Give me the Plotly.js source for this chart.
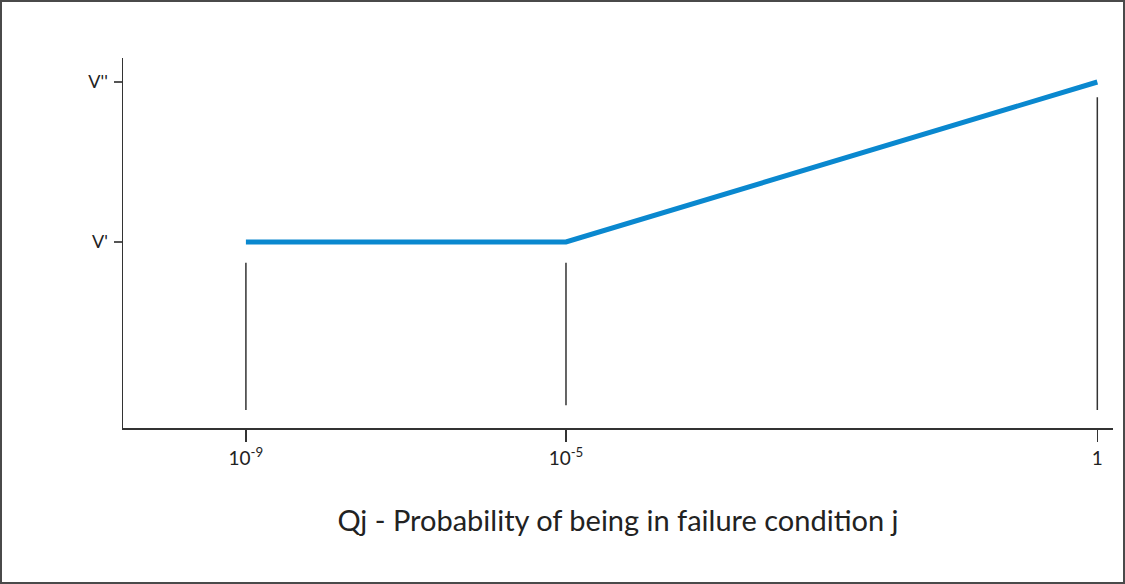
<!DOCTYPE html>
<html>
<head>
<meta charset="utf-8">
<script src="https://cdn.plot.ly/plotly-3.0.1.min.js"></script>
<style>
  html, body { margin: 0; padding: 0; background: #fff; }
  #wrap { position: relative; width: 1125px; height: 584px; }
  #chart { width: 1125px; height: 584px; }
  #frame { position: absolute; left: 0; top: 0; width: 1125px; height: 584px; box-sizing: border-box; border: 2px solid #4a4a4a; pointer-events: none; }
</style>
</head>
<body>
<div id="wrap"><div id="chart"></div><div id="frame"></div></div>
<script>
// Schematic positions of the probability ticks along the x axis
const xLabels = ['10<sup>-9</sup>', '10<sup>-5</sup>', '1'];
const xPos = [0, 1, 2.66];
// Value curve (V' -> V'')
const yLevels = [1, 2];
const yLabels = ["V'", "V''"];
const curveY = [1, 1, 2];
// Vertical reference lines at each tick: top and bottom
const dropTop = [0.87, 0.87, 1.905];
const dropBottom = [-0.05, -0.02, -0.05];

const traces = [];
for (let i = 0; i < xPos.length; i++) {
  traces.push({
    x: [xPos[i], xPos[i]],
    y: [dropBottom[i], dropTop[i]],
    mode: 'lines',
    line: { color: '#333333', width: 1.5 },
    hoverinfo: 'skip',
    showlegend: false
  });
}
traces.push({
  x: xPos,
  y: curveY,
  mode: 'lines',
  line: { color: '#0a88cf', width: 5 },
  showlegend: false
});

const layout = {
  width: 1125,
  height: 584,
  margin: { l: 123, r: 12, t: 58, b: 156 },
  paper_bgcolor: '#ffffff',
  plot_bgcolor: '#ffffff',
  font: { family: 'Lato, "Open Sans", sans-serif', color: '#222' },
  xaxis: {
    range: [-0.384, 2.709],
    tickmode: 'array',
    tickvals: xPos,
    ticktext: xLabels,
    ticks: 'outside',
    ticklen: 12,
    tickwidth: 1.5,
    tickcolor: '#333',
    ticklabelstandoff: 1,
    showline: true,
    linecolor: '#333',
    linewidth: 1.5,
    showgrid: false,
    zeroline: false,
    tickfont: { size: 19, color: '#222' },
    title: { text: 'Qj - Probability of being in failure condition j', font: { size: 29, color: '#222' }, standoff: 42 },
    automargin: false,
    fixedrange: true
  },
  yaxis: {
    range: [-0.1625, 2.15],
    tickmode: 'array',
    tickvals: yLevels,
    ticktext: yLabels,
    ticks: 'outside',
    ticklen: 8,
    tickwidth: 2,
    tickcolor: '#555',
    ticklabelstandoff: 2,
    showline: true,
    linecolor: '#333',
    linewidth: 1.5,
    showgrid: false,
    zeroline: false,
    tickfont: { size: 18, color: '#222' },
    automargin: false,
    fixedrange: true
  }
};

Plotly.newPlot('chart', traces, layout, { displayModeBar: false, staticPlot: true });
</script>
</body>
</html>
